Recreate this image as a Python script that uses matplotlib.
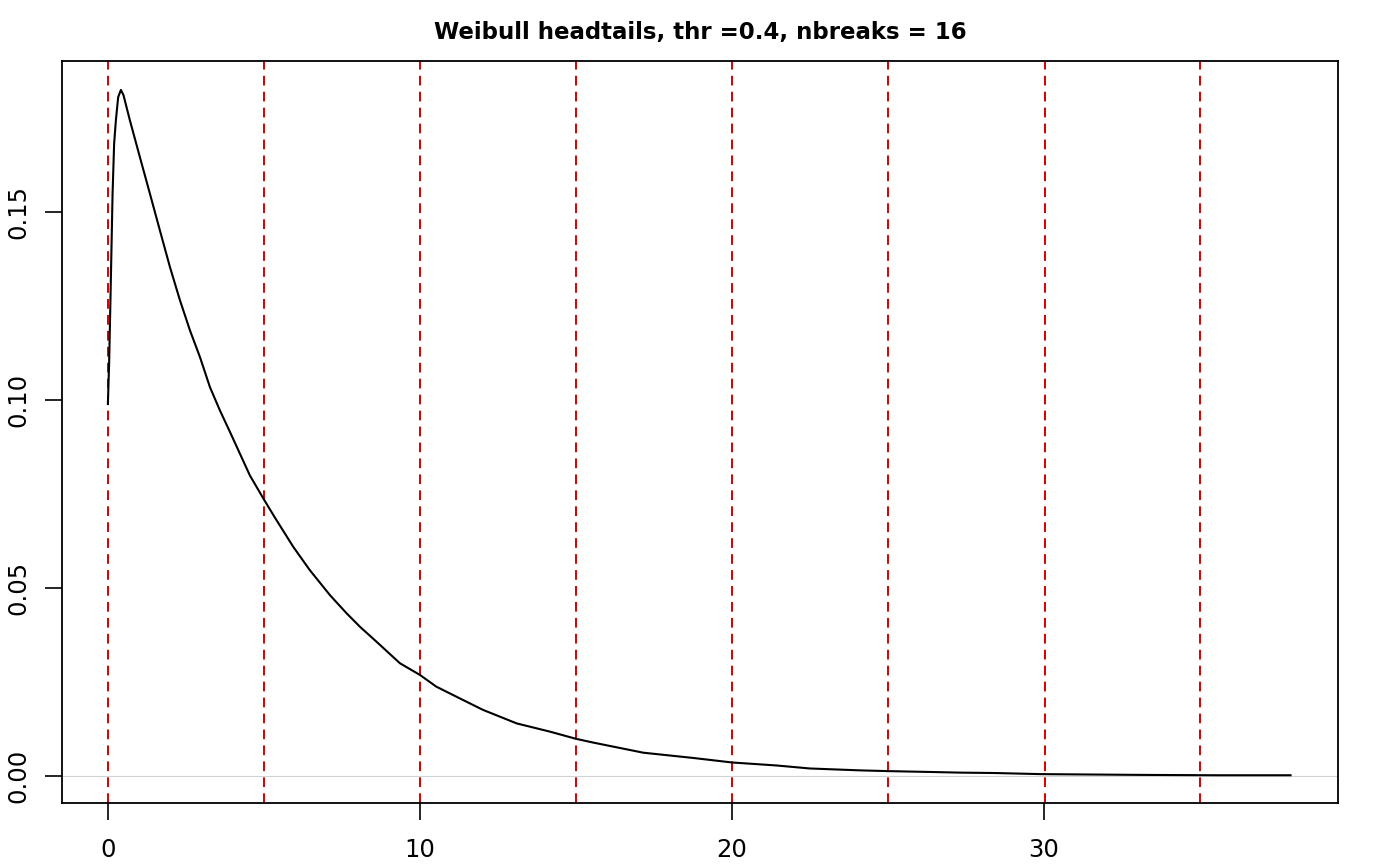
import matplotlib
matplotlib.use("Agg")
import matplotlib.pyplot as plt

# density curve
dens_x = [0.0, 0.04, 0.064, 0.086, 0.15, 0.2, 0.256, 0.33, 0.417, 0.5,
          0.705, 1.026, 1.346, 1.667, 1.987, 2.31, 2.63, 2.95, 3.27, 3.59,
          3.91, 4.23, 4.55, 5.0, 5.35, 5.94, 6.47, 7.12, 7.65, 8.08, 8.6,
          9.36, 10.0, 10.52, 11.17, 12.02, 13.1, 14.17, 15.0, 15.55, 17.16,
          18.76, 20.0, 21.43, 22.5, 24.1, 25.0, 26.2, 27.3, 28.4, 29.9,
          33.0, 35.5, 37.9]
dens_y = [0.099, 0.110, 0.1195, 0.1284, 0.155, 0.1683, 0.1745, 0.1807,
          0.1826, 0.1812, 0.1745, 0.1647, 0.155, 0.1452, 0.1355, 0.1266,
          0.1186, 0.1115, 0.1035, 0.0973, 0.0916, 0.0858, 0.080, 0.0736,
          0.0688, 0.061, 0.0548, 0.0481, 0.0433, 0.0397, 0.0358, 0.030,
          0.0269, 0.0238, 0.0211, 0.0176, 0.014, 0.0118, 0.0099, 0.0089,
          0.0062, 0.0048, 0.0036, 0.0028, 0.002, 0.0015, 0.0013, 0.0011,
          0.0009, 0.0008, 0.0005, 0.0003, 0.0002, 0.0002]

# break positions (red dashed lines)
breaks = [0, 5, 10, 15, 20, 25, 30.03, 35]

xticks = [0, 10, 20, 30]
yticks = [0.00, 0.05, 0.10, 0.15]
ytick_labels = ["0.00", "0.05", "0.10", "0.15"]

fig = plt.figure(figsize=(14, 8.65), dpi=100)
ax = fig.add_axes([0.0443, 0.0717, 0.9114, 0.8578])

ax.axhline(0, color="#d3d3d3", lw=0.8, zorder=1)
ax.plot(dens_x, dens_y, color="black", lw=1.5, zorder=3)
for b in breaks:
    ax.axvline(b, color="#d40000", lw=1.4, ls=(0, (5, 3.2)), zorder=2)

ax.set_xlim(-1.47, 39.42)
ax.set_ylim(-0.00718, 0.1903)
ax.set_xticks(xticks)
ax.set_yticks(yticks)
ax.set_yticklabels(ytick_labels, rotation=90, va="center")
ax.tick_params(axis="both", direction="out", length=12, width=1.2,
               labelsize=17.5)
ax.tick_params(axis="x", pad=13)
ax.tick_params(axis="y", pad=11)
for s in ax.spines.values():
    s.set_linewidth(1.3)

ax.set_title("Weibull headtails, thr =0.4, nbreaks = 16",
             fontsize=16.5, fontweight="bold", pad=16)

fig.savefig("out.png", dpi=100)
